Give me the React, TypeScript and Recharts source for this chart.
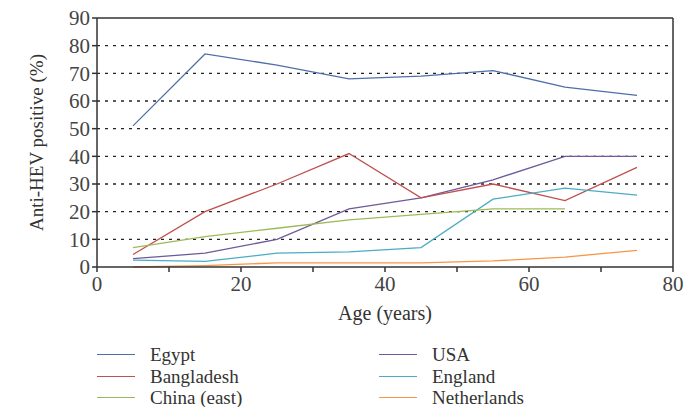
import { LineChart, Line, XAxis, YAxis, CartesianGrid, ReferenceLine } from "recharts"

const ages = [5, 15, 25, 35, 45, 55, 65, 75]
const egypt = [51, 77, 73, 68, 69, 71, 65, 62]
const bangladesh = [4.5, 20, 30, 41, 25, 30, 24, 36]
const chinaEast = [7, 11, 14, 17, 19, 21, 21, null]
const usa = [3, 5, 10, 21, 25, 31.5, 40, 40]
const england = [2.5, 2, 5, 5.5, 7, 24.5, 28.5, 26]
const netherlands = [0, 0.5, 1.5, 1.5, 1.5, 2.2, 3.6, 6]

const xTicks = [0, 10, 20, 30, 40, 50, 60, 70, 80]
const yTicks = [0, 10, 20, 30, 40, 50, 60, 70, 80, 90]

const series = [
  { key: "egypt", name: "Egypt", color: "#4f6fa8", values: egypt },
  { key: "usa", name: "USA", color: "#6e5a9a", values: usa },
  { key: "bangladesh", name: "Bangladesh", color: "#c0504d", values: bangladesh },
  { key: "england", name: "England", color: "#4bacc6", values: england },
  { key: "china", name: "China (east)", color: "#9bbb59", values: chinaEast },
  { key: "netherlands", name: "Netherlands", color: "#f79646", values: netherlands },
]

const data = ages.map((age, i) => {
  const row: Record<string, number | null> = { age }
  series.forEach((s) => {
    row[s.key] = s.values[i]
  })
  return row
})

const font = "'Liberation Serif', 'Times New Roman', serif"
const axisColor = "#333"

function LegendBox() {
  return (
    <div
      style={{
        position: "absolute",
        left: 97,
        top: 344,
        display: "grid",
        gridTemplateColumns: "282px 260px",
        fontFamily: font,
        fontSize: 19,
        color: "#333",
        lineHeight: "21.5px",
      }}
    >
      {series.map((s) => (
        <div key={s.key} style={{ display: "flex", alignItems: "center", height: 21.5 }}>
          <span style={{ display: "inline-block", width: 38, height: 0, borderTop: `1.5px solid ${s.color}` }} />
          <span style={{ marginLeft: 15 }}>{s.name}</span>
        </div>
      ))}
    </div>
  )
}

export default function App() {
  return (
    <div style={{ position: "absolute", left: 0, top: 0, width: 689, height: 407, background: "#fff" }}>
      <LineChart
        width={689}
        height={407}
        data={data}
        margin={{ top: 18, right: 16, left: 0, bottom: 0 }}
      >
        <CartesianGrid
          horizontal
          vertical={false}
          stroke="#222"
          strokeWidth={1.3}
          strokeDasharray="3 5"
          horizontalValues={[10, 20, 30, 40, 50, 60, 70, 80]}
        />
        <XAxis
          dataKey="age"
          type="number"
          domain={[0, 80]}
          ticks={xTicks}
          tickFormatter={(v: number) => (v % 20 === 0 ? String(v) : "")}
          stroke={axisColor}
          strokeWidth={1.5}
          tickSize={5}
          tick={{ fill: "#444", fontFamily: font, fontSize: 21, dy: 2 }}
          height={140}
          label={{ value: "Age (years)", position: "insideTop", offset: 39, fill: "#333", fontFamily: font, fontSize: 20 }}
        />
        <YAxis
          type="number"
          domain={[0, 90]}
          ticks={yTicks}
          interval={0}
          stroke={axisColor}
          strokeWidth={1.5}
          tickSize={5}
          width={97}
          tick={{ fill: "#444", fontFamily: font, fontSize: 21 }}
          label={{
            value: "Anti-HEV positive (%)",
            angle: -90,
            position: "insideLeft",
            offset: 36,
            style: { textAnchor: "middle" },
            fill: "#333",
            fontFamily: font,
            fontSize: 19,
          }}
        />
        <ReferenceLine y={90} stroke={axisColor} strokeWidth={1.5} />
        <ReferenceLine x={80} stroke={axisColor} strokeWidth={1.5} />
        {series.map((s) => (
          <Line
            key={s.key}
            dataKey={s.key}
            name={s.name}
            type="linear"
            stroke={s.color}
            strokeWidth={1.3}
            dot={false}
            activeDot={false}
            connectNulls={false}
            isAnimationActive={false}
          />
        ))}
      </LineChart>
      <LegendBox />
    </div>
  )
}
